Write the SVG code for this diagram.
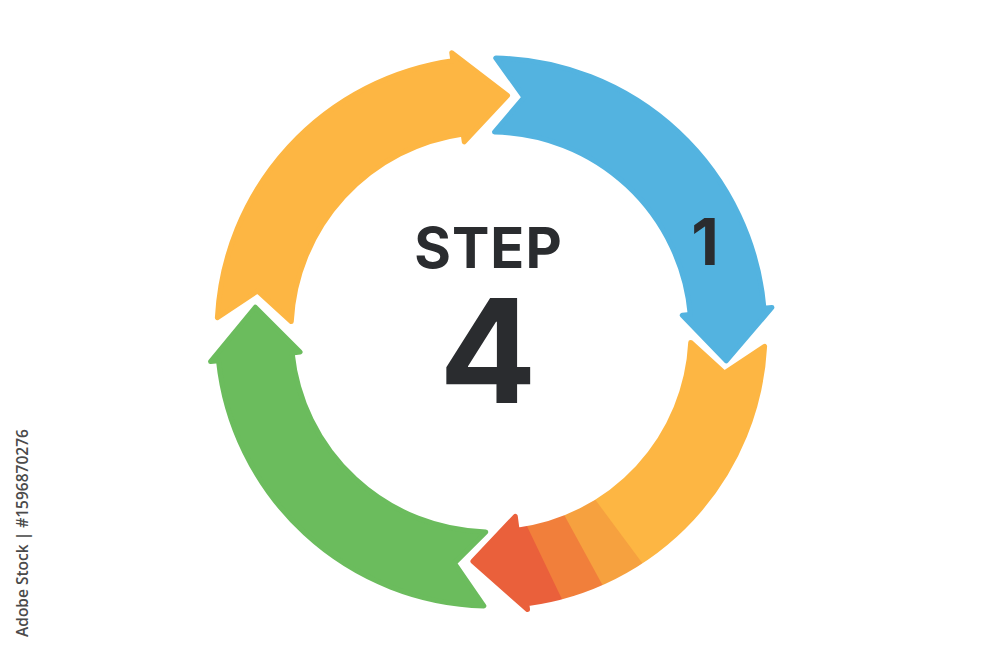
<svg xmlns="http://www.w3.org/2000/svg" width="1000" height="667" viewBox="0 0 1000 667">
  <style>
    .arrow { stroke-width: 5; stroke-linejoin: round; }
    .yellow { fill: #FDB643; stroke: #FDB643; }
    .blue { fill: #53B3E0; stroke: #53B3E0; }
    .green { fill: #6BBC5D; stroke: #6BBC5D; }
    .label { font-family: Inter, "Liberation Sans", sans-serif; font-weight: 700; fill: #2A2C2F; text-anchor: middle; }
    .credit { font-family: "Open Sans", "Liberation Sans", sans-serif; font-weight: 600; font-size: 15.5px; fill: #4A4A4A; }
  </style>
  <defs>
    <mask id="orangeMask" maskUnits="userSpaceOnUse" x="0" y="0" width="1000" height="667">
      <path d="M764.62,346.34 A274,274 0 0 1 526.76,603.65 L527.55,609.60 L472.95,561.29 L515.28,516.41 L517.11,530.29 A200,200 0 0 0 690.73,342.47 L724.40,373.15 Z" fill="#fff" stroke="#fff" stroke-width="5" stroke-linejoin="round"/>
    </mask>
  </defs>
  <rect width="1000" height="667" fill="#FFFFFF"/>

  <g id="connectors">
    <g id="arrow-yellow-top">
      <path class="arrow yellow" d="M217.38,317.66 A274,274 0 0 1 452.87,60.67 L451.75,52.74 L507.53,95.58 L464.28,141.87 L463.17,133.95 A200,200 0 0 0 291.27,321.53 L257.60,290.85 Z"/>
    </g>
    <g id="arrow-blue">
      <path class="arrow blue" d="M495.78,58.04 A274,274 0 0 1 763.96,308.12 L771.93,307.42 L726.23,360.88 L682.27,315.27 L690.24,314.57 A200,200 0 0 0 494.49,132.03 L523.98,97.31 Z"/>
    </g>
    <g id="arrow-orange" mask="url(#orangeMask)">
      <rect x="380" y="300" width="420" height="340" fill="#FDB643"/>
      <polygon points="575.5,473 661.5,589 400,700 380,400" fill="#F6A13F"/>
      <polygon points="544,478 620,617 400,700 380,400" fill="#F17F3B"/>
      <polygon points="507.5,485.5 577.5,631.5 400,700 380,400" fill="#EA603B"/>
    </g>
    <g id="arrow-green">
      <path class="arrow green" d="M483.83,605.91 A274,274 0 0 1 218.50,360.64 L210.55,361.48 L255.30,307.23 L300.05,352.07 L292.10,352.91 A200,200 0 0 0 485.76,531.93 L454.39,563.12 Z"/>
    </g>
  </g>

  <g id="center-label">
    <text class="label" x="488.5" y="268" font-size="56" letter-spacing="1">STEP</text>
    <text class="label" x="488" y="403" font-size="144">4</text>
  </g>

  <g id="step-number-1">
    <text class="label" x="705" y="265" font-size="64">1</text>
  </g>

  <text class="credit" transform="translate(28,637) rotate(-90)">Adobe Stock | #1596870276</text>
</svg>
